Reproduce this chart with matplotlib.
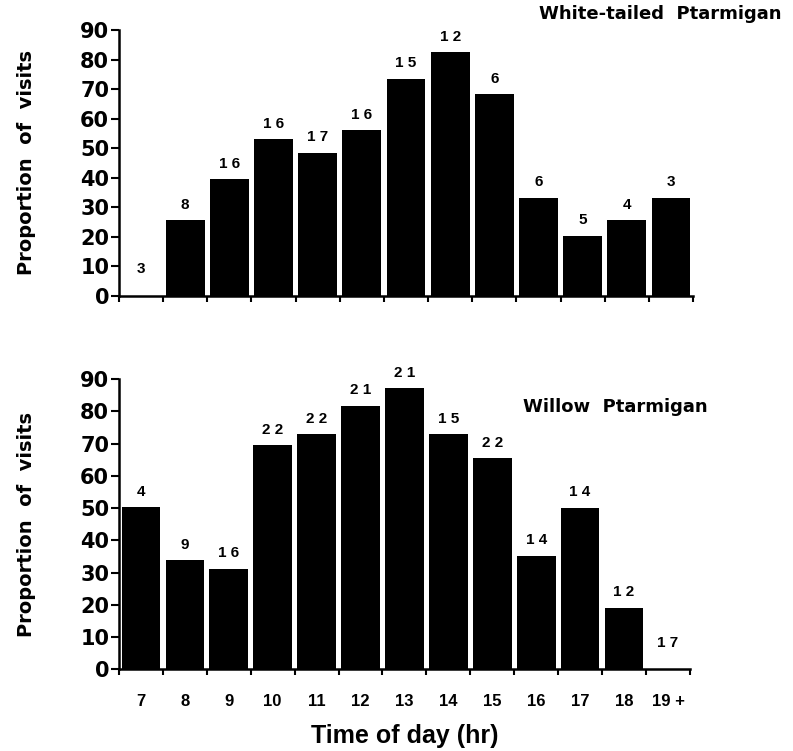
import matplotlib

matplotlib.use("Agg")
import matplotlib.pyplot as plt
import numpy as np

hours = ["7", "8", "9", "10", "11", "12", "13", "14", "15", "16", "17", "18", "19 +"]

white_tailed = [0, 25.7, 39.5, 53, 48.5, 56, 73.5, 82.6, 68.4, 33.2, 20.4, 25.6, 33.2]
white_tailed_n = [3, 8, 16, 16, 17, 16, 15, 12, 6, 6, 5, 4, 3]

willow = [50.3, 33.8, 31.2, 69.5, 72.9, 81.8, 87.2, 72.9, 65.5, 35.2, 50.1, 19.1, 0]
willow_n = [4, 9, 16, 22, 22, 21, 21, 15, 22, 14, 14, 12, 17]

plt.rcParams["font.family"] = ["DejaVu Sans"]
plt.rcParams["font.weight"] = "bold"
NARROW = ["Liberation Sans", "DejaVu Sans"]


def spaced(n):
    return " ".join(str(n))


def panel(ax, vals, counts, show_xlabels):
    x = np.arange(len(vals))
    ax.bar(x + 0.5, vals, width=0.88, color="black", align="center")
    for xi, v, n in zip(x, vals, counts):
        off = 6 if v > 0 else 14
        ax.annotate(spaced(n), (xi + 0.5, v), xytext=(0, off), textcoords="offset points",
                    ha="center", va="bottom", fontsize=11, fontweight="bold", family=NARROW)
    ax.set_xlim(0, len(vals))
    ax.set_ylim(0, 90)
    ax.set_yticks(np.arange(0, 91, 10))
    ax.set_xticks(np.arange(0, len(vals) + 1))
    ax.tick_params(axis="x", direction="out", length=4, width=1.5, labelbottom=False)
    ax.tick_params(axis="y", direction="out", length=6, width=1.5, labelsize=15, pad=1)
    for lab in ax.get_yticklabels():
        lab.set_fontweight("bold")
    for s in ("top", "right"):
        ax.spines[s].set_visible(False)
    for s in ("left", "bottom"):
        ax.spines[s].set_linewidth(1.8)
    ax.set_ylabel("Proportion  of  visits", fontsize=14, fontweight="bold")
    ax.yaxis.set_label_coords(-0.145, 0.5)
    if show_xlabels:
        ax.set_xticks(x + 0.5, minor=True)
        ax.set_xticklabels(hours, minor=True, family=NARROW)
        ax.tick_params(axis="x", which="minor", length=0, labelsize=12, pad=18)
        for lab in ax.get_xticklabels(minor=True):
            lab.set_fontweight("bold")


fig = plt.figure(figsize=(7.93, 7.51), dpi=100)
ax1 = fig.add_axes([0.150, 0.606, 0.724, 0.354])
ax2 = fig.add_axes([0.150, 0.109, 0.720, 0.386])

panel(ax1, white_tailed, white_tailed_n, False)
panel(ax2, willow, willow_n, True)

fig.text(0.985, 0.982, "White-tailed  Ptarmigan", ha="right", va="center",
         fontsize=13, fontweight="bold")
fig.text(0.66, 0.458, "Willow  Ptarmigan", ha="left", va="center",
         fontsize=13, fontweight="bold")
ax2.set_xlabel("Time of day (hr)", fontsize=18, fontweight="bold", labelpad=11, family=NARROW)

fig.savefig("out.png", dpi=100)
